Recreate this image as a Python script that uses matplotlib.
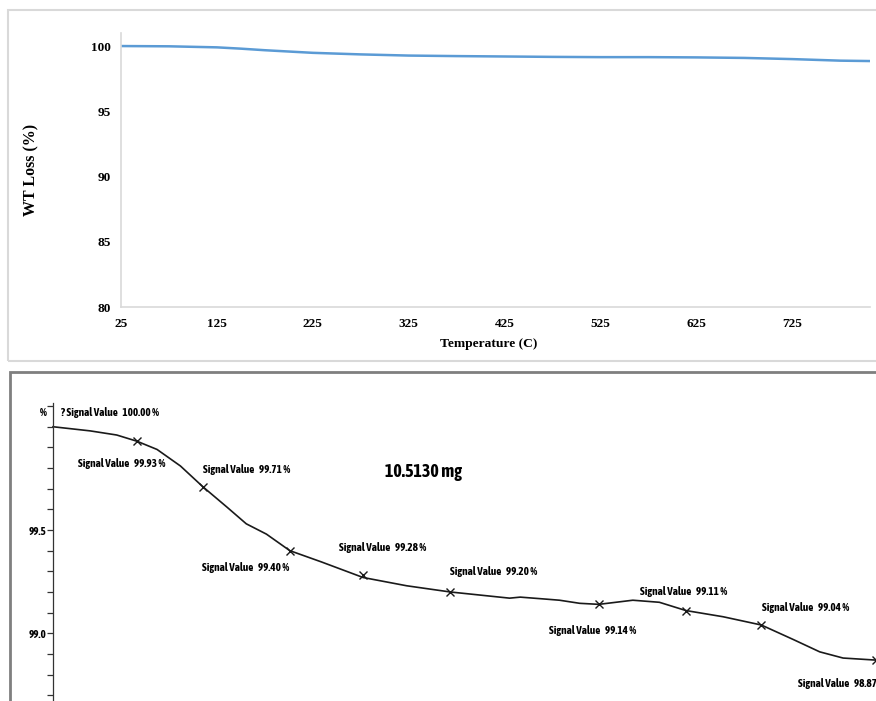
import matplotlib.pyplot as plt
from matplotlib.patches import Rectangle
from matplotlib.ticker import MultipleLocator

# top panel: smoothed weight curve
temp_top = [25, 75, 125, 150, 175, 225, 275, 325, 375, 425, 475, 525, 575, 625, 675, 725, 775, 806]
wt_top = [100.0, 99.98, 99.9, 99.8, 99.68, 99.48, 99.36, 99.27, 99.23, 99.2, 99.17, 99.15,
          99.15, 99.13, 99.09, 99.0, 98.88, 98.85]
xticks_top = [25, 125, 225, 325, 425, 525, 625, 725]
yticks_top = [80, 85, 90, 95, 100]

# bottom panel: instrument trace
temp_trace = [25, 60, 85, 104, 123, 145, 166, 189, 207, 226, 248, 278, 317, 358, 399, 427,
              455, 465, 490, 502, 521, 539, 571, 596, 621, 656, 692, 722, 747, 769, 800]
wt_trace = [100.0, 99.98, 99.96, 99.93, 99.89, 99.81, 99.71, 99.61, 99.53, 99.48, 99.40,
            99.345, 99.27, 99.23, 99.20, 99.185, 99.17, 99.175, 99.165, 99.16, 99.145,
            99.14, 99.16, 99.15, 99.11, 99.08, 99.04, 98.97, 98.91, 98.88, 98.87]

# marked signal values
mark_temp = [25, 104, 166, 248, 317, 399, 539, 621, 692, 800]
mark_val = [100.00, 99.93, 99.71, 99.40, 99.28, 99.20, 99.14, 99.11, 99.04, 98.87]
label_offsets = [(8, 14), (28, -22), (0, 17), (-1, -17), (-24, 28), (0, 20),
                 (-50, -26), (-46, 19), (1, 18), (-78, -23)]
label_align = ['left', 'right', 'left', 'right', 'left', 'left', 'left', 'left', 'left', 'left']
sample_mass = '10.5130 mg'

W, H = 876, 701
fig = plt.figure(figsize=(W / 100, H / 100), dpi=100)

# panel frames
fig.add_artist(Rectangle((8 / W, 1 - 361 / H), 880 / W, 351 / H, transform=fig.transFigure,
                         fill=False, edgecolor='#d9d9d9', lw=1.5))
fig.add_artist(Rectangle((10 / W, -0.02), 880 / W, 1 - 372 / H + 0.02, transform=fig.transFigure,
                         fill=False, edgecolor='#7f7f7f', lw=2))

serif = ['Liberation Serif', 'DejaVu Serif']
narrow = ['Asap Condensed', 'DejaVu Sans']

# ---- top chart
ax1 = fig.add_axes([121 / W, 1 - 307 / H, 749 / W, 274 / H])
ax1.plot(temp_top, wt_top, color='#5b9bd5', lw=1.8, solid_capstyle='butt',
         solid_joinstyle='round')
ax1.set_xlim(25, 806)
ax1.set_ylim(80, 101)
ax1.set_xticks(xticks_top)
ax1.set_yticks(yticks_top)
ax1.tick_params(length=0, labelsize=9.5)
ax1.tick_params(axis='x', pad=8)
ax1.tick_params(axis='y', pad=7)
for lbl in ax1.get_xticklabels() + ax1.get_yticklabels():
    lbl.set_family(serif)
    lbl.set_fontweight('bold')
for s in ['top', 'right']:
    ax1.spines[s].set_visible(False)
for s in ['left', 'bottom']:
    ax1.spines[s].set_color('#d9d9d9')
    ax1.spines[s].set_linewidth(1.2)
ax1.set_xlabel('Temperature (C)', family=serif, fontweight='bold', fontsize=9.7)
ax1.set_ylabel('WT Loss (%)', family=serif, fontweight='bold', fontsize=11.5)
ax1.xaxis.set_label_coords(0.491, -0.113)
ax1.yaxis.set_label_coords(-0.109, 0.5)

# ---- bottom chart
ax2 = fig.add_axes([53 / W, 0, 823 / W, 1 - 403 / H])
ax2.plot(temp_trace, wt_trace, color='#1a1a1a', lw=1.2, clip_on=False,
         solid_joinstyle='round')
ax2.plot(mark_temp[1:], mark_val[1:], 'x', color='#1a1a1a', ms=6, mew=1.0, clip_on=False)
ax2.set_xlim(25, 800)
ax2.set_ylim(98.672, 100.115)
ax2.yaxis.set_major_locator(MultipleLocator(0.5))
ax2.yaxis.set_minor_locator(MultipleLocator(0.1))
ax2.yaxis.set_major_formatter(lambda v, p: f'{v:.1f}' if v < 99.9 else '')
ax2.tick_params(axis='y', which='both', direction='out', length=4, width=0.9,
                color='#333333', labelsize=8, pad=1)
for lbl in ax2.get_yticklabels():
    lbl.set_family(narrow)
    lbl.set_fontweight('bold')
ax2.set_xticks([])
for s in ['top', 'right', 'bottom']:
    ax2.spines[s].set_visible(False)
ax2.spines['left'].set_color('#333333')
ax2.spines['left'].set_linewidth(0.9)
ax2.patch.set_alpha(0)

ax2.text(-6 / 823, 1 - 10 / 298, '%', transform=ax2.transAxes, ha='right', va='center',
         family=narrow, fontweight='bold', fontsize=8)

for i, (t, v) in enumerate(zip(mark_temp, mark_val)):
    prefix = '? ' if i == 0 else ''
    ax2.annotate(f'{prefix}Signal Value   {v:.2f} %', (t, v), xytext=label_offsets[i],
                 textcoords='offset pixels', ha=label_align[i], va='center',
                 family=narrow, fontweight='bold', fontsize=8, annotation_clip=False)

ax2.text(338, 99.78, sample_mass, ha='left', va='center',
         family=narrow, fontweight='bold', fontsize=13)

fig.savefig('out.png', dpi=100)
